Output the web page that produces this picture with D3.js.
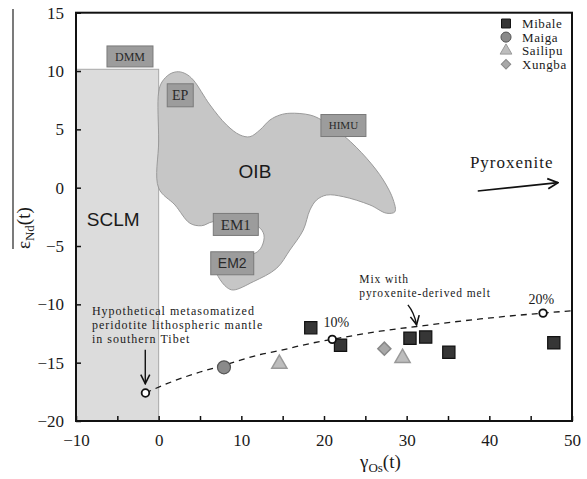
<!doctype html>
<html>
<head>
    <meta charset="utf-8">
    <title>gamma Os vs epsilon Nd</title>
    <style>
        body { margin: 0; background: #fff; }
        text { font-family: "Liberation Serif", "DejaVu Serif", serif; fill: #1a1a1a; }
        .sans { font-family: "Liberation Sans", Arial, sans-serif; }
        .axis path { display: none; }
        .axis line { stroke: #111; stroke-width: 1.5; }
        .axis text { font-size: 17px; }
    </style>
</head>
<body>
    <div id="chart"></div>

    <script src="https://cdn.jsdelivr.net/npm/d3@7"></script>
    <script>
        var svg_width = 587;
        var svg_height = 479;

        // sample groups, [gammaOs, epsNd]
        var mibale = [[18.4, -12.0], [22.0, -13.5], [30.4, -12.9], [32.3, -12.8], [35.1, -14.1], [47.8, -13.3]];
        var maiga = [[7.9, -15.4]];
        var sailipu = [[14.6, -15.1], [29.5, -14.6]];
        var xungba = [[27.3, -13.8]];

        // mixing curve and its marked steps
        var mix_curve = [[-1.6, -17.6], [1.0, -16.8], [5.0, -15.8], [8.0, -15.2], [12.3, -14.3], [14.7, -13.95],
            [18.7, -13.3], [21.0, -13.0], [26.8, -12.3], [31.2, -11.9], [38.9, -11.25], [46.5, -10.75], [50, -10.55]];
        var mix_steps = [[-1.6, -17.6], [21.0, -13.0], [46.5, -10.75]];

        // OIB field outline
        var oib_outline = [[0, 8.2], [0.4, 9.06], [1.37, 9.75], [2.37, 9.94], [3.3, 9.75], [4.19, 9.23], [6.21, 7.09],
            [8.23, 5.37], [9.83, 4.52], [11.04, 4.37], [12.25, 4.95], [13.46, 5.8], [14.67, 6.23], [15.88, 6.38],
            [18.3, 6.23], [19.72, 5.8], [22.53, 4.37], [25.16, 2.52], [27.17, 0.66], [28.38, -1.05], [28.58, -2.06],
            [27.58, -2.19], [25.56, -1.48], [22.33, -0.77], [20.32, -0.63], [19.11, -1.05], [18.3, -1.91],
            [17.49, -3.63], [15.88, -5.34], [14.27, -6.91], [11.44, -8.06], [9.02, -8.77], [8.23, -8.54],
            [7.21, -7.63], [6.69, -6.63], [8.62, -5.85], [11.65, -5.62], [12.46, -5.06], [12.74, -4.05],
            [12.05, -3.34], [9.83, -2.94], [6.57, -2.91], [5.2, -3.26], [3.79, -3.05], [1.97, -1.48],
            [0, -0.03], [0, 4.0]];

        var sclm_box = [-10, 0, -20, 10.15];

        var end_members = [
            { name: 'DMM', x: -3.47, y: 11.25, w: 46, h: 21, size: 12, sans: false },
            { name: 'EP', x: 2.61, y: 7.92, w: 26, h: 23, size: 14, sans: false },
            { name: 'HIMU', x: 22.35, y: 5.33, w: 45, h: 22, size: 11, sans: false },
            { name: 'EM1', x: 9.33, y: -3.15, w: 45, h: 22, size: 15, sans: false },
            { name: 'EM2', x: 8.9, y: -6.48, w: 43, h: 23, size: 14, sans: true }
        ];

        var x_ticks = [-10, -5, 0, 5, 10, 15, 20, 25, 30, 35, 40, 45, 50];
        var y_ticks = [-20, -15, -10, -5, 0, 5, 10, 15];

        var legend_items = ['Mibale', 'Maiga', 'Sailipu', 'Xungba'];

        var x = d3.scaleLinear().domain([-10, 50]).range([76, 572]);
        var y = d3.scaleLinear().domain([-20, 15]).range([421, 12.7]);

        var svg = d3.select('#chart').append('svg')
            .attr('width', svg_width)
            .attr('height', svg_height);

        // SCLM field
        svg.append('rect')
            .attr('x', x(sclm_box[0]))
            .attr('y', y(sclm_box[3]))
            .attr('width', x(sclm_box[1]) - x(sclm_box[0]))
            .attr('height', y(sclm_box[2]) - y(sclm_box[3]))
            .attr('fill', '#dcdcdc')
            .attr('stroke', '#a8a8a8')
            .attr('stroke-width', 1);

        // OIB field
        var outline = d3.line()
            .x(function(d) { return x(d[0]); })
            .y(function(d) { return y(d[1]); })
            .curve(d3.curveCatmullRomClosed.alpha(0.5));

        svg.append('path')
            .attr('d', outline(oib_outline))
            .attr('fill', '#c6c6c6')
            .attr('stroke', '#9a9a9a')
            .attr('stroke-width', 1);

        svg.append('text')
            .attr('class', 'sans')
            .attr('x', x(11.65))
            .attr('y', y(1.46) + 7)
            .attr('text-anchor', 'middle')
            .style('font-size', '19px')
            .text('OIB');

        svg.append('text')
            .attr('class', 'sans')
            .attr('x', x(-5.5))
            .attr('y', y(-2.7) + 7)
            .attr('text-anchor', 'middle')
            .style('font-size', '19px')
            .text('SCLM');

        // end-member boxes
        var em = svg.selectAll('g.em')
            .data(end_members)
          .enter().append('g')
            .attr('class', 'em')
            .attr('transform', function(d) {
                return 'translate(' + x(d.x) + ',' + y(d.y) + ')';
            });

        em.append('rect')
            .attr('x', function(d) { return -d.w / 2; })
            .attr('y', function(d) { return -d.h / 2; })
            .attr('width', function(d) { return d.w; })
            .attr('height', function(d) { return d.h; })
            .attr('fill', '#9c9c9c')
            .attr('stroke', '#7a7a7a')
            .attr('stroke-width', 1);

        em.append('text')
            .attr('class', function(d) { return d.sans ? 'sans' : null; })
            .attr('text-anchor', 'middle')
            .attr('y', function(d) { return d.size * 0.36; })
            .style('font-size', function(d) { return d.size + 'px'; })
            .style('fill', '#2a2a2a')
            .text(function(d) { return d.name; });

        // axes
        var x_axis = d3.axisBottom(x)
            .tickValues(x_ticks)
            .tickSize(-5)
            .tickPadding(13)
            .tickFormat(function(d) { return d % 10 === 0 ? d3.format('d')(d) : ''; });

        var y_axis = d3.axisLeft(y)
            .tickValues(y_ticks)
            .tickSize(-5)
            .tickPadding(12)
            .tickFormat(d3.format('d'));

        svg.append('g')
            .attr('class', 'axis')
            .attr('transform', 'translate(0,' + y(-20) + ')')
            .call(x_axis);

        svg.append('g')
            .attr('class', 'axis')
            .attr('transform', 'translate(' + x(-10) + ',0)')
            .call(y_axis);

        svg.append('rect')
            .attr('x', x(-10))
            .attr('y', y(15))
            .attr('width', x(50) - x(-10))
            .attr('height', y(-20) - y(15))
            .attr('fill', 'none')
            .attr('stroke', '#111')
            .attr('stroke-width', 2);

        // axis titles
        var x_title = svg.append('text')
            .attr('x', 360)
            .attr('y', 468)
            .style('font-size', '19px');
        x_title.append('tspan').text('γ');
        x_title.append('tspan').attr('dy', 4).style('font-size', '13px').text('Os');
        x_title.append('tspan').attr('dy', -4).text('(t)');

        var y_title = svg.append('text')
            .attr('transform', 'translate(30,249) rotate(-90)')
            .style('font-size', '19px');
        y_title.append('tspan').text('ε');
        y_title.append('tspan').attr('dy', 4).style('font-size', '13px').text('Nd');
        y_title.append('tspan').attr('dy', -4).text('(t)');

        svg.append('line')
            .attr('x1', 13).attr('x2', 13)
            .attr('y1', 9).attr('y2', 249)
            .attr('stroke', '#222')
            .attr('stroke-width', 1.2);

        // mixing line
        var mix_line = d3.line()
            .x(function(d) { return x(d[0]); })
            .y(function(d) { return y(d[1]); })
            .curve(d3.curveMonotoneX);

        svg.append('path')
            .attr('d', mix_line(mix_curve))
            .attr('fill', 'none')
            .attr('stroke', '#1a1a1a')
            .attr('stroke-width', 1.3)
            .attr('stroke-dasharray', '6,5');

        // samples
        var square = d3.symbol().type(d3.symbolSquare).size(150);
        var triangle = d3.symbol().type(d3.symbolTriangle).size(100);
        var diamond = d3.symbol().type(d3.symbolSquare).size(85);

        svg.selectAll('path.mibale')
            .data(mibale)
          .enter().append('path')
            .attr('class', 'mibale')
            .attr('d', square)
            .attr('transform', function(d) { return 'translate(' + x(d[0]) + ',' + y(d[1]) + ')'; })
            .attr('fill', '#363636')
            .attr('stroke', '#111')
            .attr('stroke-width', 1.2);

        svg.selectAll('circle.maiga')
            .data(maiga)
          .enter().append('circle')
            .attr('class', 'maiga')
            .attr('cx', function(d) { return x(d[0]); })
            .attr('cy', function(d) { return y(d[1]); })
            .attr('r', 6.5)
            .attr('fill', '#8a8a8a')
            .attr('stroke', '#555')
            .attr('stroke-width', 1.2);

        svg.selectAll('path.sailipu')
            .data(sailipu)
          .enter().append('path')
            .attr('class', 'sailipu')
            .attr('d', triangle)
            .attr('transform', function(d) { return 'translate(' + x(d[0]) + ',' + y(d[1]) + ')'; })
            .attr('fill', '#bdbdbd')
            .attr('stroke', '#999')
            .attr('stroke-width', 1.5);

        svg.selectAll('path.xungba')
            .data(xungba)
          .enter().append('path')
            .attr('class', 'xungba')
            .attr('d', diamond)
            .attr('transform', function(d) { return 'translate(' + x(d[0]) + ',' + y(d[1]) + ') rotate(45)'; })
            .attr('fill', '#a8a8a8')
            .attr('stroke', '#888')
            .attr('stroke-width', 1.5);

        svg.selectAll('circle.step')
            .data(mix_steps)
          .enter().append('circle')
            .attr('class', 'step')
            .attr('cx', function(d) { return x(d[0]); })
            .attr('cy', function(d) { return y(d[1]); })
            .attr('r', 3.8)
            .attr('fill', '#fff')
            .attr('stroke', '#111')
            .attr('stroke-width', 1.8);

        // annotations
        svg.append('defs').append('marker')
            .attr('id', 'head')
            .attr('viewBox', '0 0 10 10')
            .attr('refX', 9).attr('refY', 5)
            .attr('markerWidth', 8).attr('markerHeight', 8)
            .attr('orient', 'auto')
          .append('path')
            .attr('d', 'M1,1 L9,5 L1,9')
            .attr('fill', 'none')
            .attr('stroke', '#111')
            .attr('stroke-width', 1.4);

        var note1 = ['Hypothetical metasomatized', 'peridotite lithospheric mantle', 'in southern Tibet'];
        svg.append('g').selectAll('text')
            .data(note1)
          .enter().append('text')
            .attr('x', x(-8.07))
            .attr('y', function(d, i) { return y(-10.9) + i * 14.3; })
            .style('font-size', '12px')
            .style('letter-spacing', '1px')
            .text(function(d) { return d; });

        svg.append('line')
            .attr('x1', x(-1.62)).attr('x2', x(-1.62))
            .attr('y1', y(-13.9)).attr('y2', y(-16.8))
            .attr('stroke', '#111')
            .attr('stroke-width', 1.4)
            .attr('marker-end', 'url(#head)');

        var note2 = ['Mix with', 'pyroxenite-derived melt'];
        svg.append('g').selectAll('text')
            .data(note2)
          .enter().append('text')
            .attr('x', x(24.27))
            .attr('y', function(d, i) { return y(-8.2) + i * 14; })
            .style('font-size', '11.5px')
            .style('letter-spacing', '0.9px')
            .text(function(d) { return d; });

        svg.append('path')
            .attr('d', 'M' + x(30.15) + ',' + y(-10.05) + ' Q' + x(30.9) + ',' + y(-10.7) + ' ' + x(31.2) + ',' + y(-11.75))
            .attr('fill', 'none')
            .attr('stroke', '#111')
            .attr('stroke-width', 1.4)
            .attr('marker-end', 'url(#head)');

        svg.append('text')
            .attr('x', x(21.5)).attr('y', y(-11.5) + 5)
            .attr('text-anchor', 'middle')
            .style('font-size', '14px')
            .text('10%');

        svg.append('text')
            .attr('x', x(46.3)).attr('y', y(-9.5) + 5)
            .attr('text-anchor', 'middle')
            .style('font-size', '14px')
            .text('20%');

        svg.append('text')
            .attr('x', x(37.65)).attr('y', y(1.7))
            .style('font-size', '17px')
            .style('letter-spacing', '1px')
            .text('Pyroxenite');

        svg.append('line')
            .attr('x1', x(38.6)).attr('y1', y(-0.28))
            .attr('x2', x(48.3)).attr('y2', y(0.43))
            .attr('stroke', '#111')
            .attr('stroke-width', 1.6)
            .attr('marker-end', 'url(#head)');

        // legend
        var legend_shapes = [
            d3.symbol().type(d3.symbolSquare).size(80),
            d3.symbol().type(d3.symbolCircle).size(80),
            d3.symbol().type(d3.symbolTriangle).size(60),
            d3.symbol().type(d3.symbolSquare).size(45)
        ];
        var legend_rotate = [0, 0, 0, 45];
        var legend_fill = ['#363636', '#8a8a8a', '#bdbdbd', '#a8a8a8'];
        var legend_stroke = ['#111', '#555', '#999', '#888'];

        var legend = svg.selectAll('g.legend')
            .data(legend_items)
          .enter().append('g')
            .attr('class', 'legend')
            .attr('transform', function(d, i) { return 'translate(506,' + (23.5 + i * 13.6) + ')'; });

        legend.append('path')
            .attr('d', function(d, i) { return legend_shapes[i](); })
            .attr('transform', function(d, i) { return 'rotate(' + legend_rotate[i] + ')'; })
            .attr('fill', function(d, i) { return legend_fill[i]; })
            .attr('stroke', function(d, i) { return legend_stroke[i]; })
            .attr('stroke-width', 1);

        legend.append('text')
            .attr('x', 16)
            .attr('y', 4.5)
            .style('font-size', '13px')
            .style('letter-spacing', '0.6px')
            .text(function(d) { return d; });
    </script>
</body>
</html>
